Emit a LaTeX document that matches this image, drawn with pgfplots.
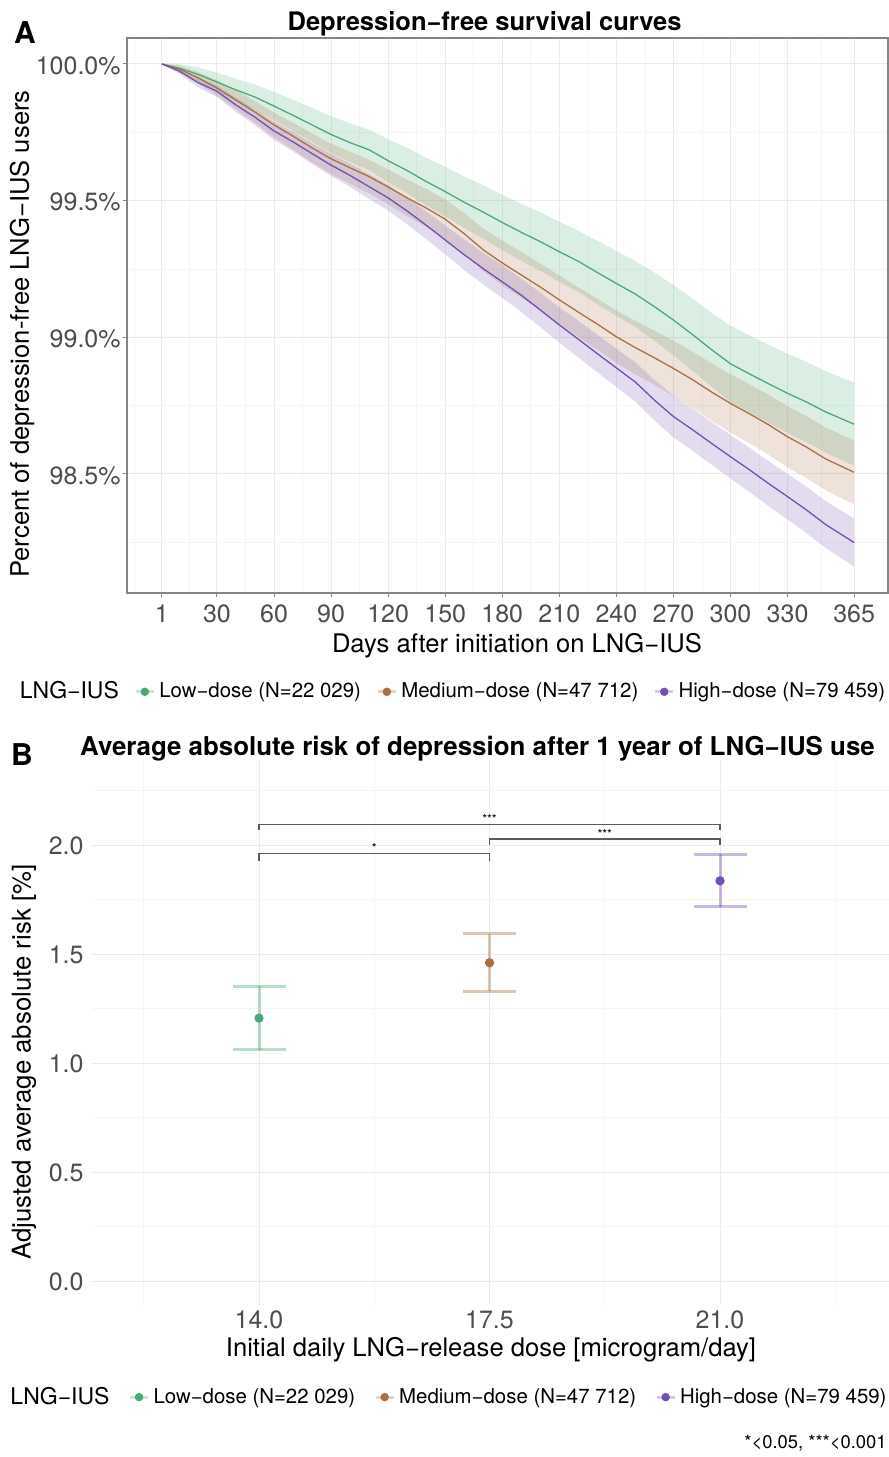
\documentclass[border=0pt]{standalone}
\usepackage{fontspec}
\setmainfont{TeX Gyre Heros}
\usepackage{pgfplots}
\pgfplotsset{compat=1.18}
\usepackage{pgfplotstable}
\usepgfplotslibrary{fillbetween}

\definecolor{cG}{HTML}{4BAA73}
\definecolor{cB}{HTML}{A87044}
\definecolor{cP}{HTML}{7350AF}
\definecolor{tickgray}{HTML}{4D4D4D}
\definecolor{gridmaj}{HTML}{EBEBEB}
\definecolor{gridmin}{HTML}{F5F5F5}
\definecolor{axgray}{HTML}{858585}
\definecolor{brk}{HTML}{5A5A5A}

\newcommand{\fs}[1]{\fontsize{#1}{#1}\selectfont}

\pgfplotsset{legkey/.style={legend image code/.code={%
  \draw[#1, line width=1.5pt, draw opacity=0.3] (0pt,0pt) -- (9pt,0pt);
  \fill[#1] (4.5pt,0pt) circle (1.9pt);}}}

\pgfplotstableread{
d s lo hi
1 100.000 100.000 100.000
10 99.985 99.969 100.000
20 99.962 99.936 99.988
30 99.934 99.900 99.968
40 99.905 99.864 99.946
50 99.879 99.833 99.925
60 99.846 99.794 99.898
70 99.812 99.755 99.869
80 99.777 99.715 99.840
90 99.742 99.675 99.809
100 99.712 99.641 99.783
110 99.686 99.612 99.760
120 99.646 99.567 99.725
130 99.610 99.527 99.693
140 99.570 99.483 99.657
150 99.533 99.443 99.624
160 99.494 99.400 99.588
170 99.458 99.361 99.556
180 99.420 99.319 99.521
190 99.384 99.280 99.488
200 99.350 99.243 99.457
210 99.313 99.203 99.423
220 99.278 99.166 99.390
230 99.237 99.121 99.353
240 99.197 99.078 99.316
250 99.158 99.037 99.279
260 99.112 98.987 99.237
270 99.063 98.935 99.191
280 99.010 98.878 99.142
290 98.955 98.820 99.090
300 98.903 98.764 99.042
310 98.866 98.725 99.007
320 98.830 98.687 98.973
330 98.795 98.650 98.940
340 98.763 98.616 98.910
350 98.727 98.578 98.876
365 98.682 98.530 98.834
}\tabG

\pgfplotstableread{
d s lo hi
1 100.000 100.000 100.000
10 99.982 99.969 99.995
20 99.950 99.929 99.971
30 99.912 99.884 99.940
40 99.868 99.833 99.903
50 99.824 99.784 99.864
60 99.777 99.732 99.822
70 99.736 99.687 99.785
80 99.693 99.640 99.746
90 99.653 99.597 99.709
100 99.620 99.561 99.679
110 99.588 99.527 99.649
120 99.550 99.486 99.614
130 99.510 99.443 99.577
140 99.473 99.404 99.543
150 99.432 99.360 99.504
160 99.379 99.304 99.454
170 99.320 99.242 99.398
180 99.272 99.190 99.354
190 99.228 99.144 99.312
200 99.184 99.098 99.270
210 99.137 99.048 99.226
220 99.092 99.001 99.183
230 99.048 98.955 99.141
240 99.002 98.906 99.098
250 98.962 98.864 99.060
260 98.925 98.826 99.024
270 98.886 98.785 98.987
280 98.845 98.742 98.948
290 98.800 98.695 98.905
300 98.758 98.651 98.865
310 98.720 98.612 98.828
320 98.680 98.570 98.790
330 98.636 98.524 98.748
340 98.598 98.485 98.711
350 98.555 98.440 98.670
365 98.506 98.389 98.623
}\tabB

\pgfplotstableread{
d s lo hi
1 100.000 100.000 100.000
10 99.975 99.965 99.986
20 99.932 99.915 99.949
30 99.900 99.879 99.921
40 99.850 99.824 99.876
50 99.805 99.776 99.834
60 99.755 99.722 99.788
70 99.715 99.680 99.751
80 99.672 99.634 99.710
90 99.630 99.590 99.671
100 99.592 99.550 99.635
110 99.551 99.506 99.596
120 99.510 99.464 99.557
130 99.462 99.413 99.511
140 99.410 99.359 99.461
150 99.356 99.303 99.409
160 99.302 99.246 99.358
170 99.251 99.193 99.309
180 99.203 99.144 99.263
190 99.154 99.093 99.215
200 99.100 99.037 99.163
210 99.045 98.980 99.110
220 98.993 98.926 99.060
230 98.940 98.872 99.009
240 98.888 98.818 98.958
250 98.836 98.764 98.908
260 98.770 98.696 98.844
270 98.710 98.634 98.786
280 98.662 98.585 98.739
290 98.612 98.534 98.690
300 98.563 98.483 98.643
310 98.515 98.434 98.596
320 98.465 98.383 98.547
330 98.417 98.333 98.501
340 98.368 98.283 98.453
350 98.315 98.229 98.401
365 98.249 98.161 98.337
}\tabP

\begin{document}
\begin{tikzpicture}[x=1pt,y=1pt]

% ---------------- Panel A ----------------
\begin{axis}[
  at={(63.5pt,-296.5pt)}, anchor=south west,
  scale only axis, width=380.5pt, height=277.5pt,
  xmin=-17.3, xmax=382.8, ymin=98.0644, ymax=100.095,
  xtick={1,30,60,90,120,150,180,210,240,270,300,330,365},
  xticklabels={1,30,60,90,120,150,180,210,240,270,300,330,365},
  minor xtick={-13.5,15.5,45,75,105,135,165,195,225,255,285,315,347.5},
  ytick={98.5,99,99.5,100},
  yticklabels={98.5\%,99.0\%,99.5\%,100.0\%},
  minor ytick={98.25,98.75,99.25,99.75},
  grid=both,
  major grid style={draw=gridmaj, line width=0.5pt},
  minor grid style={draw=gridmin, line width=0.35pt},
  axis line style={draw=axgray, line width=0.6pt},
  tick style={draw=axgray, line width=0.5pt},
  tick align=outside, major tick length=2pt, minor tick length=0pt,
  xtick pos=bottom, ytick pos=left,
  xticklabel style={font=\fs{12.5}, text=tickgray, inner sep=0pt, anchor=base, yshift=-12.5pt},
  yticklabel style={font=\fs{12.5}, text=tickgray, inner sep=0pt, anchor=east, xshift=-1pt, yshift=-0.8pt},
  legend style={at={(axis description cs:0.4277,-0.178)}, anchor=center, draw=none, fill=none,
    font=\fs{10.2}, /tikz/every even column/.append style={column sep=5.7pt}},
  legend columns=-1, legend cell align=left,
]
\addlegendimage{empty legend}\addlegendentry{\fs{11.5}LNG−IUS}
\addlegendimage{legkey=cG}\addlegendentry{Low−dose (N=22 029)}
\addlegendimage{legkey=cB}\addlegendentry{Medium−dose (N=47 712)}
\addlegendimage{legkey=cP}\addlegendentry{High−dose (N=79 459)}

\addplot[draw=none, name path=gH, forget plot] table[x=d, y=hi]{\tabG};
\addplot[draw=none, name path=gL, forget plot] table[x=d, y=lo]{\tabG};
\addplot[fill=cG, fill opacity=0.2, draw=none, forget plot] fill between[of=gH and gL];
\addplot[draw=none, name path=bH, forget plot] table[x=d, y=hi]{\tabB};
\addplot[draw=none, name path=bL, forget plot] table[x=d, y=lo]{\tabB};
\addplot[fill=cB, fill opacity=0.2, draw=none, forget plot] fill between[of=bH and bL];
\addplot[draw=none, name path=pH, forget plot] table[x=d, y=hi]{\tabP};
\addplot[draw=none, name path=pL, forget plot] table[x=d, y=lo]{\tabP};
\addplot[fill=cP, fill opacity=0.2, draw=none, forget plot] fill between[of=pH and pL];

\addplot[cG, line width=0.65pt, forget plot] table[x=d, y=s]{\tabG};
\addplot[cB, line width=0.65pt, forget plot] table[x=d, y=s]{\tabB};
\addplot[cP, line width=0.65pt, forget plot] table[x=d, y=s]{\tabP};
\end{axis}

% ---------------- Panel B ----------------
\begin{axis}[
  at={(46pt,-652.5pt)}, anchor=south west,
  scale only axis, width=398.5pt, height=272.5pt,
  xmin=11.464, xmax=23.566, ymin=-0.11, ymax=2.39,
  xtick={14,17.5,21}, xticklabels={14.0,17.5,21.0},
  minor xtick={12.25,15.75,19.25,22.75},
  ytick={0,0.5,1,1.5,2}, yticklabels={0.0,0.5,1.0,1.5,2.0},
  minor ytick={0.25,0.75,1.25,1.75,2.25},
  grid=both,
  major grid style={draw=gridmaj, line width=0.5pt},
  minor grid style={draw=gridmin, line width=0.35pt},
  axis line style={draw=none},
  major tick length=0pt, minor tick length=0pt, tick style={draw=none},
  xticklabel style={font=\fs{12.5}, text=tickgray, inner sep=0pt, anchor=base, yshift=-11.65pt},
  yticklabel style={font=\fs{12.5}, text=tickgray, inner sep=0pt, anchor=east, xshift=-4pt, yshift=-0.4pt},
  legend style={at={(axis description cs:0.4473,-0.169)}, anchor=center, draw=none, fill=none,
    font=\fs{10.2}, /tikz/every even column/.append style={column sep=7.5pt}},
  legend columns=-1, legend cell align=left,
]
\addlegendimage{empty legend}\addlegendentry{\fs{11.5}LNG−IUS}
\addlegendimage{legkey=cG}\addlegendentry{Low−dose (N=22 029)}
\addlegendimage{legkey=cB}\addlegendentry{Medium−dose (N=47 712)}
\addlegendimage{legkey=cP}\addlegendentry{High−dose (N=79 459)}

% significance brackets
\addplot[brk, line width=0.6pt, forget plot] coordinates {(14,1.927) (14,1.962) (17.5,1.962) (17.5,1.927)};
\addplot[brk, line width=0.6pt, forget plot] coordinates {(17.5,2.0) (17.5,2.028) (21,2.028) (21,2.0)};
\addplot[brk, line width=0.6pt, forget plot] coordinates {(14,2.07) (14,2.093) (21,2.093) (21,2.07)};
\node[anchor=base, font=\fs{6.2}, inner sep=0pt, yshift=0.4pt] at (axis cs:15.75,1.962) {*};
\node[anchor=base, font=\fs{6.2}, inner sep=0pt, yshift=0.4pt] at (axis cs:19.25,2.028) {***};
\node[anchor=base, font=\fs{6.2}, inner sep=0pt, yshift=0.4pt] at (axis cs:17.5,2.093) {***};

\addplot[only marks, mark=*, mark size=2.1pt, color=cG, forget plot,
  error bars/.cd, y dir=both, y explicit,
  error bar style={line width=1.5pt, draw=cG, draw opacity=0.4},
  error mark options={rotate=90, mark size=13.25pt, line width=1.5pt, draw=cG, draw opacity=0.4}]
  coordinates {(14,1.206) += (0,0.147) -= (0,0.146)};
\addplot[only marks, mark=*, mark size=2.1pt, color=cB, forget plot,
  error bars/.cd, y dir=both, y explicit,
  error bar style={line width=1.5pt, draw=cB, draw opacity=0.4},
  error mark options={rotate=90, mark size=13.25pt, line width=1.5pt, draw=cB, draw opacity=0.4}]
  coordinates {(17.5,1.460) += (0,0.132) -= (0,0.131)};
\addplot[only marks, mark=*, mark size=2.1pt, color=cP, forget plot,
  error bars/.cd, y dir=both, y explicit,
  error bar style={line width=1.5pt, draw=cP, draw opacity=0.4},
  error mark options={rotate=90, mark size=13.25pt, line width=1.5pt, draw=cP, draw opacity=0.4}]
  coordinates {(21,1.836) += (0,0.121) -= (0,0.120)};
\end{axis}

% ---------------- Text ----------------
\node[anchor=base, font=\fs{15}\bfseries] at (12.5,-21.5) {A};
\node[anchor=base, font=\fs{12.75}\bfseries] at (242.25,-15) {Depression−free survival curves};
\node[rotate=90, font=\fs{12.8}] at (11,-167) {Percent of depression-free LNG−IUS users};
\node[anchor=base, font=\fs{12.8}] at (258.5,-326) {Days after initiation on LNG−IUS};

\node[anchor=base, font=\fs{15}\bfseries] at (11,-382.5) {B};
\node[anchor=base, font=\fs{12.95}\bfseries] at (238.75,-377.5) {Average absolute risk of depression after 1 year of LNG−IUS use};
\node[rotate=90, font=\fs{12.9}] at (12,-531) {Adjusted average absolute risk [\%]};
\node[anchor=base, font=\fs{12.8}] at (245.5,-678.35) {Initial daily LNG−release dose [microgram/day]};
\node[anchor=base east, font=\fs{9.2}, inner sep=0pt] at (443.5,-724.15) {*<0.05, ***<0.001};

\pgfresetboundingbox
\path[use as bounding box] (0,0) rectangle (444.5,-728.5);
\end{tikzpicture}
\end{document}
